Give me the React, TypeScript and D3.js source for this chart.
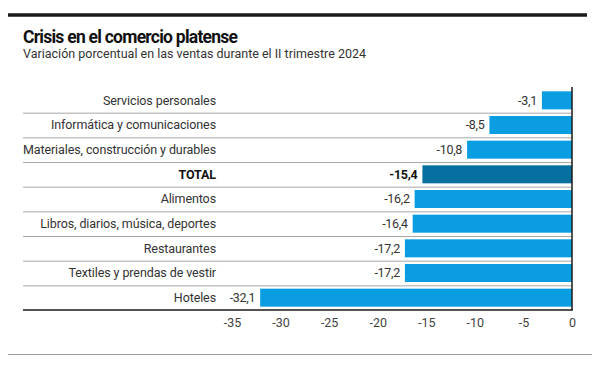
import React, { useEffect, useRef } from "react";
import * as d3 from "d3";

const categories = [
  "Servicios personales",
  "Informática y comunicaciones",
  "Materiales, construcción y durables",
  "TOTAL",
  "Alimentos",
  "Libros, diarios, música, deportes",
  "Restaurantes",
  "Textiles y prendas de vestir",
  "Hoteles",
];
const values = [-3.1, -8.5, -10.8, -15.4, -16.2, -16.4, -17.2, -17.2, -32.1];
const ticks = [-35, -30, -25, -20, -15, -10, -5, 0];

const FONT = "'Roboto', 'Liberation Sans', sans-serif";

function App() {
  const svgRef = useRef<SVGSVGElement>(null);

  useEffect(() => {
    const width = 600;
    const height = 365;
    const svg = d3.select(svgRef.current)
      .attr("width", width)
      .attr("height", height)
      .style("display", "block")
      .style("background", "#fff");
    svg.selectAll("*").remove();

    const left = 23;
    const top = 88;
    const bottom = 310;

    // escalas
    const x = d3.scaleLinear().domain([-35, 0]).range([232, 572]);
    const y = d3.scaleBand<string>()
      .domain(categories)
      .range([top, bottom])
      .paddingInner(0.27)
      .paddingOuter(0.135);
    const step = y.step();

    // marco
    svg.append("line")
      .attr("x1", 8).attr("x2", 587).attr("y1", 15).attr("y2", 15)
      .attr("stroke", "#1a1a1a").attr("stroke-width", 3.5);
    svg.append("line")
      .attr("x1", 596).attr("x2", 596).attr("y1", 10).attr("y2", 354)
      .attr("stroke", "#d8d8d8").attr("stroke-width", 1);
    svg.append("line")
      .attr("x1", 8).attr("x2", 596).attr("y1", 354.5).attr("y2", 354.5)
      .attr("stroke", "#9a9a9a").attr("stroke-width", 1);

    // titulos
    svg.append("text")
      .attr("x", left).attr("y", 43)
      .style("font-family", FONT).style("font-weight", "bold")
      .style("font-size", "17.5px").style("letter-spacing", "-0.75px")
      .attr("fill", "#111")
      .text("Crisis en el comercio platense");
    svg.append("text")
      .attr("x", left).attr("y", 58)
      .style("font-family", FONT).style("font-size", "12.5px").attr("fill", "#333")
      .text("Variación porcentual en las ventas durante el II trimestre 2024");

    // separadores
    svg.append("g").selectAll("line")
      .data(d3.range(1, categories.length))
      .join("line")
      .attr("x1", left).attr("x2", x(0))
      .attr("y1", i => top + step * i + 0.5).attr("y2", i => top + step * i + 0.5)
      .attr("stroke", "#a8a8a8").attr("stroke-width", 1);

    // barras
    svg.append("g").selectAll("rect")
      .data(categories)
      .join("rect")
      .attr("x", (d, i) => x(values[i]))
      .attr("y", d => y(d)!)
      .attr("width", (d, i) => x(0) - x(values[i]))
      .attr("height", y.bandwidth())
      .attr("fill", d => d === "TOTAL" ? "#056f9f" : "#0a9de2");

    // etiquetas categorias
    svg.append("g").selectAll("text")
      .data(categories)
      .join("text")
      .attr("x", 216)
      .attr("y", d => y(d)! + y.bandwidth() / 2)
      .attr("dy", "0.35em")
      .attr("text-anchor", "end")
      .style("font-family", FONT)
      .style("font-size", "12.5px")
      .style("letter-spacing", "-0.1px")
      .style("font-weight", d => d === "TOTAL" ? "bold" : "normal")
      .attr("fill", d => d === "TOTAL" ? "#111" : "#333")
      .text(d => d);

    // valores
    svg.append("g").selectAll("text")
      .data(categories)
      .join("text")
      .attr("x", (d, i) => x(values[i]) - 5)
      .attr("y", d => y(d)! + y.bandwidth() / 2)
      .attr("dy", "0.35em")
      .attr("text-anchor", "end")
      .style("font-family", FONT)
      .style("font-size", "12.5px")
      .style("letter-spacing", "-0.3px")
      .style("font-weight", d => d === "TOTAL" ? "bold" : "normal")
      .attr("fill", d => d === "TOTAL" ? "#111" : "#333")
      .text((d, i) => String(values[i]).replace(".", ","));

    // eje
    svg.append("line")
      .attr("x1", left).attr("x2", x(0) + 1).attr("y1", bottom).attr("y2", bottom)
      .attr("stroke", "#1a1a1a").attr("stroke-width", 1.5);
    svg.append("line")
      .attr("x1", x(0)).attr("x2", x(0)).attr("y1", top - 1).attr("y2", bottom)
      .attr("stroke", "#1a1a1a").attr("stroke-width", 1.5);

    const axis = d3.axisBottom(x).tickValues(ticks).tickSize(0).tickPadding(8)
      .tickFormat(d => String(d));
    const g = svg.append("g").attr("transform", `translate(0, ${bottom})`).call(axis);
    g.select(".domain").remove();
    g.selectAll("text")
      .style("font-family", FONT).style("font-size", "12.5px").attr("fill", "#444");

    // fuente
    const f = svg.append("text")
      .attr("x", 587).attr("y", 364).attr("text-anchor", "end")
      .style("font-family", FONT).style("font-size", "7.5px")
      .style("letter-spacing", "-0.2px").attr("fill", "#222");
    f.append("tspan").style("font-weight", "bold").text("FUENTE: ");
    f.append("tspan").attr("fill", "#555").text("UNLP");
  }, []);

  return (
    <div style={{ margin: -8 }}>
      <svg ref={svgRef}></svg>
    </div>
  );
}

export default App;
